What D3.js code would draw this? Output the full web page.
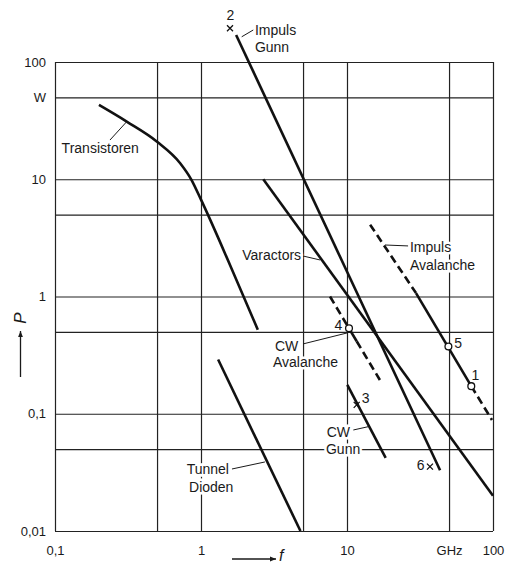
<!DOCTYPE html>
<html>
<head>
<meta charset="utf-8">
<script src="https://cdn.jsdelivr.net/npm/d3@7"></script>
<style>
body { margin: 0; background: #fff; }
svg text { font-family: "Liberation Sans", Arial, sans-serif; fill: #1a1a1a; }
</style>
</head>
<body>
<svg id="chart"></svg>
<script>
// axis ticks / grid
const xTicks = [0.1, 1, 10, 50, 100];
const xTickLabels = ['0,1', '1', '10', 'GHz', '100'];
const yTicks = [100, 50, 10, 1, 0.1, 0.01];
const yTickLabels = ['100', 'W', '10', '1', '0,1', '0,01'];
const xGrid = [0.1, 0.5, 1, 5, 10, 50, 100];
const yGrid = [0.01, 0.05, 0.1, 0.5, 1, 5, 10, 50, 100];

// curves, [f in GHz, P in W]
const transistoren = [[0.2, 43], [0.31, 31], [0.5, 20.9], [0.72, 13.7], [0.86, 9.9], [1.0, 6.7], [1.58, 1.86], [2.45, 0.52]];
const impulsGunn = [[1.74, 170], [43.4, 0.033]];
const varactors = [[2.67, 10], [100, 0.02]];
const tunnelDioden = [[1.31, 0.29], [4.8, 0.01]];
const cwGunn = [[10.05, 0.176], [18.4, 0.042]];
const cwAvalanche = [[7.65, 1.0], [10.32, 0.535], [11.65, 0.415], [16.8, 0.194]];
const impulsAvalanche = [[14.4, 4.1], [29.7, 1.07], [71, 0.172], [98.4, 0.0885]];

// numbered measurement points
const pointIds = ['1', '2', '3', '4', '5', '6'];
const pointF = [71, 1.58, 11.65, 10.32, 49.5, 37];
const pointP = [0.172, 194, 0.119, 0.535, 0.375, 0.0354];
const pointSym = ['o', 'x', 'x', 'o', 'o', 'x'];
const pointLabelF = [75.7, 1.59, 13.4, 8.72, 57.8, 32];
const pointLabelP = [0.214, 252, 0.136, 0.571, 0.40, 0.0366];

// text labels and leader lines
const labels = [
    ['Impuls', 2.34, 187.5, 'start'], ['Gunn', 2.34, 135, 'start'],
    ['Transistoren', 0.111, 18.5, 'start'],
    ['Varactors', 4.85, 2.26, 'end'],
    ['Impuls', 27.0, 2.66, 'start'], ['Avalanche', 27.0, 1.857, 'start'],
    ['CW', 3.21, 0.38, 'start'], ['Avalanche', 3.11, 0.278, 'start'],
    ['CW', 7.26, 0.0703, 'start'], ['Gunn', 7.18, 0.05, 'start'],
    ['Tunnel', 0.798, 0.0336, 'start'], ['Dioden', 0.828, 0.0239, 'start']
];
const leaders = [
    [1.90, 164, 2.28, 187.5],
    [0.238, 21.6, 0.31, 31.0],
    [5.0, 2.215, 6.53, 2.05],
    [18.2, 2.75, 26.2, 2.70],
    [5.0, 0.394, 10.16, 0.491],
    [11.05, 0.0727, 14.0, 0.0776],
    [1.63, 0.0338, 2.74, 0.0388]
];

const W = 505, H = 567;
const margin = { top: 62, right: 12, bottom: 36, left: 55 };
const svg = d3.select('#chart').attr('width', W).attr('height', H);

const x = d3.scaleLog().domain([0.1, 100]).range([margin.left, W - margin.right]);
const y = d3.scaleLog().domain([0.01, 100]).range([H - margin.bottom, margin.top]);
const plotW = W - margin.left - margin.right, plotH = H - margin.top - margin.bottom;

svg.append('defs').append('marker')
    .attr('id', 'arr')
    .attr('viewBox', '0 0 10 10')
    .attr('refX', 10).attr('refY', 5)
    .attr('markerWidth', 12).attr('markerHeight', 6)
    .attr('markerUnits', 'userSpaceOnUse')
    .attr('orient', 'auto')
    .append('path').attr('d', 'M0,1 L10,5 L0,9 Z').attr('fill', '#1a1a1a');

// grid
svg.append('g')
    .attr('transform', `translate(0, ${H - margin.bottom})`)
    .call(d3.axisBottom(x).tickValues(xGrid).tickSize(-plotH).tickFormat(''))
    .call(g => g.select('.domain').remove())
    .selectAll('line').attr('stroke', '#222').attr('stroke-width', 1.2);
svg.append('g')
    .attr('transform', `translate(${margin.left}, 0)`)
    .call(d3.axisLeft(y).tickValues(yGrid).tickSize(-plotW).tickFormat(''))
    .call(g => g.select('.domain').remove())
    .selectAll('line').attr('stroke', '#222').attr('stroke-width', 1.2);

// tick labels
svg.append('g')
    .attr('transform', `translate(0, ${H - margin.bottom})`)
    .call(d3.axisBottom(x).tickValues(xTicks).tickSize(0).tickPadding(15)
        .tickFormat((d, i) => xTickLabels[i]))
    .call(g => g.select('.domain').remove())
    .selectAll('text').attr('font-size', 13).attr('font-family', null).attr('fill', '#1a1a1a');
svg.append('g')
    .attr('transform', `translate(${margin.left}, 0)`)
    .call(d3.axisLeft(y).tickValues(yTicks).tickSize(0).tickPadding(9)
        .tickFormat((d, i) => yTickLabels[i]))
    .call(g => g.select('.domain').remove())
    .selectAll('text').attr('font-size', 13).attr('font-family', null).attr('fill', '#1a1a1a');

// axis titles
svg.append('line').attr('x1', 20.5).attr('y1', 377).attr('x2', 20.5).attr('y2', 331)
    .attr('stroke', '#1a1a1a').attr('stroke-width', 1.3).attr('marker-end', 'url(#arr)');
svg.append('text').attr('transform', 'translate(26, 318) rotate(-90)')
    .attr('text-anchor', 'middle').attr('font-size', 17).attr('font-style', 'italic').text('P');
svg.append('line').attr('x1', 232).attr('y1', 559).attr('x2', 276).attr('y2', 559)
    .attr('stroke', '#1a1a1a').attr('stroke-width', 1.3).attr('marker-end', 'url(#arr)');
svg.append('text').attr('x', 279).attr('y', 561)
    .attr('font-size', 16).attr('font-style', 'italic').text('f');

// labels with white halo (breaks grid lines as in the print)
svg.append('g').selectAll('text').data(labels).join('text')
    .attr('x', d => x(d[1])).attr('y', d => y(d[2]))
    .attr('dominant-baseline', 'central')
    .attr('text-anchor', d => d[3])
    .attr('font-size', 14)
    .attr('stroke', '#fff').attr('stroke-width', 5).attr('paint-order', 'stroke')
    .text(d => d[0]);

svg.append('g').selectAll('line').data(leaders).join('line')
    .attr('x1', d => x(d[0])).attr('y1', d => y(d[1]))
    .attr('x2', d => x(d[2])).attr('y2', d => y(d[3]))
    .attr('stroke', '#1a1a1a').attr('stroke-width', 1);

// curves
const line = d3.line().x(d => x(d[0])).y(d => y(d[1]));
const smooth = d3.line().x(d => x(d[0])).y(d => y(d[1])).curve(d3.curveMonotoneX);
const curveG = svg.append('g').attr('fill', 'none').attr('stroke', '#111')
    .attr('stroke-width', 2.6).attr('stroke-linecap', 'butt');

curveG.append('path').attr('d', smooth(transistoren));
[impulsGunn, varactors, tunnelDioden, cwGunn].forEach(s => {
    curveG.append('path').attr('d', line(s));
});
// dashed - solid - dashed pieces
[[cwAvalanche, [true, false, true]], [impulsAvalanche, [true, false, true]]].forEach(([s, dash]) => {
    for (let i = 0; i < s.length - 1; i++) {
        curveG.append('path').attr('d', line([s[i], s[i + 1]]))
            .attr('stroke-dasharray', dash[i] ? '8,4.5' : null);
    }
});

// numbered points
const pts = pointIds.map((id, i) => ({ id, f: pointF[i], P: pointP[i], sym: pointSym[i], lf: pointLabelF[i], lp: pointLabelP[i] }));
const pg = svg.append('g');
pts.filter(p => p.sym === 'o').forEach(p => {
    pg.append('circle').attr('cx', x(p.f)).attr('cy', y(p.P)).attr('r', 3.4)
        .attr('fill', '#fff').attr('stroke', '#111').attr('stroke-width', 1.3);
});
pts.filter(p => p.sym === 'x').forEach(p => {
    const cx = x(p.f), cy = y(p.P), s = 3;
    pg.append('path').attr('d', `M${cx - s},${cy - s}L${cx + s},${cy + s}M${cx - s},${cy + s}L${cx + s},${cy - s}`)
        .attr('stroke', '#111').attr('stroke-width', 1.3);
});
pg.selectAll('text').data(pts).join('text')
    .attr('x', d => x(d.lf)).attr('y', d => y(d.lp))
    .attr('text-anchor', 'middle').attr('dominant-baseline', 'central')
    .attr('font-size', 14)
    .text(d => d.id);
</script>
</body>
</html>
